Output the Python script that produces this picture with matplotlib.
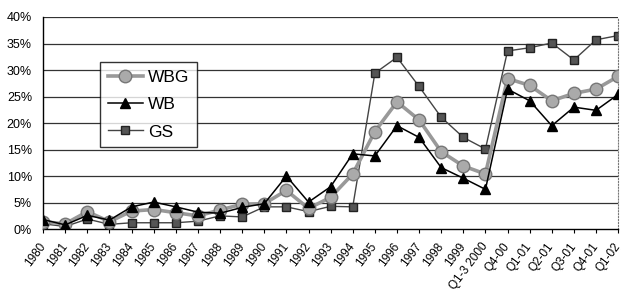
import matplotlib
matplotlib.use('Agg')
import matplotlib.pyplot as plt
from matplotlib.ticker import FuncFormatter

plt.rcParams['font.family'] = ['Liberation Sans', 'DejaVu Sans']

categories = ['1980', '1981', '1982', '1983', '1984', '1985', '1986', '1987', '1988', '1989',
              '1990', '1991', '1992', '1993', '1994', '1995', '1996', '1997', '1998', '1999',
              'Q1-3 2000', 'Q4-00', 'Q1-01', 'Q2-01', 'Q3-01', 'Q4-01', 'Q1-02']

wbg = [1.4, 1.0, 3.3, 1.4, 3.4, 3.7, 3.1, 2.5, 3.6, 4.7,
       4.8, 7.3, 3.9, 6.0, 10.4, 18.4, 24.0, 20.6, 14.6, 11.9,
       10.4, 28.4, 27.1, 24.2, 25.6, 26.4, 28.8]
wb = [1.8, 0.8, 2.6, 1.7, 4.2, 5.1, 4.2, 3.2, 3.0, 4.1,
      4.8, 10.0, 5.1, 8.0, 14.2, 13.8, 19.5, 17.3, 11.6, 9.6,
      7.5, 26.4, 24.2, 19.5, 23.0, 22.4, 25.4]
gs = [1.0, 0.5, 1.9, 0.9, 1.2, 1.2, 1.2, 1.5, 2.5, 2.3,
      4.2, 4.2, 3.3, 4.3, 4.2, 29.4, 32.4, 26.9, 21.1, 17.3,
      15.1, 33.6, 34.2, 35.1, 31.9, 35.7, 36.5]

fig = plt.figure(figsize=(6.25, 2.93), dpi=100)
ax = fig.add_axes([0.069, 0.218, 0.92, 0.724])

x = range(len(categories))

# grid lines first so the series sit on top
for v in range(5, 41, 5):
    ax.axhline(v, color='#333333', lw=0.9, zorder=1)

ax.plot(x, wbg, color='#999999', lw=2.6, marker='o', markersize=9,
        markerfacecolor='#aaaaaa', markeredgecolor='#777777', label='WBG', zorder=3)
ax.plot(x, wb, color='black', lw=1.1, marker='^', markersize=6.5,
        markerfacecolor='black', label='WB', zorder=4)
ax.plot(x, gs, color='#444444', lw=1.0, marker='s', markersize=5.5,
        markerfacecolor='#555555', markeredgecolor='#222222', label='GS', zorder=2)

ax.set_xlim(0, len(categories) - 1)
ax.set_ylim(0, 40)
ax.set_yticks(range(0, 41, 5))
ax.yaxis.set_major_formatter(FuncFormatter(lambda v, p: '%d%%' % v))
ax.set_xticks(list(x))
ax.set_xticklabels(categories, rotation=53, ha='right', va='center', rotation_mode='anchor')
ax.tick_params(axis='y', length=0, labelsize=9, pad=8)
ax.tick_params(axis='x', direction='out', length=3, labelsize=8.5, pad=8)

ax.spines['top'].set_visible(False)
ax.spines['right'].set_linestyle(':')
ax.spines['right'].set_color('#777777')
ax.spines['left'].set_linewidth(1.0)
ax.spines['bottom'].set_linewidth(1.0)

leg = ax.legend(loc='upper left', bbox_to_anchor=(0.099, 0.788), fontsize=12.5,
                frameon=True, fancybox=False, edgecolor='black', handlelength=2.0,
                handletextpad=0.3, borderpad=0.45, labelspacing=0.7, borderaxespad=0)
leg.get_frame().set_linewidth(1.0)
leg.set_zorder(5)

fig.savefig('out.png', dpi=100)
